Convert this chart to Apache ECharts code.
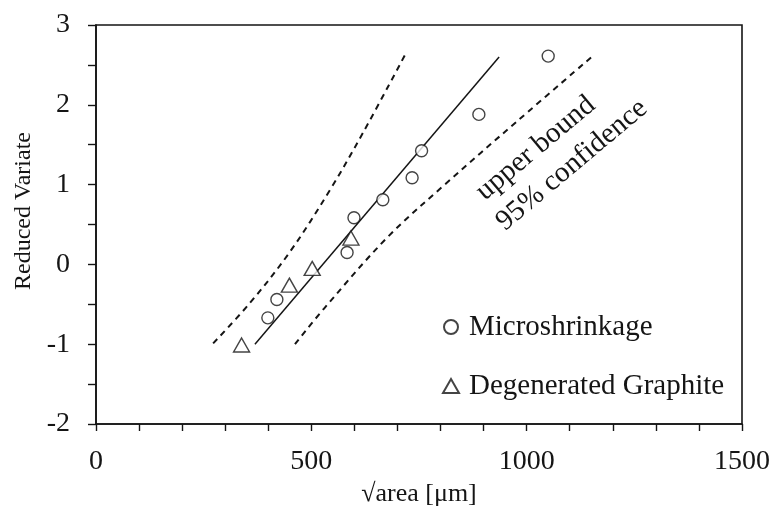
<!DOCTYPE html>
<html>
<head>
<meta charset="utf-8">
<script src="https://cdn.jsdelivr.net/npm/echarts@6/dist/echarts.min.js"></script>
<style>
html,body{margin:0;padding:0;background:#fff;}
#chart{width:776px;height:516px;}
</style>
</head>
<body>
<div id="chart"></div>
<script>
// ---- data ----
var microX = [399, 420, 583, 599, 666, 734, 756, 889, 1050];
var microY = [-0.67, -0.44, 0.15, 0.585, 0.81, 1.085, 1.425, 1.88, 2.61];
var graphX = [338, 449, 502, 592];
var graphY = [-1.01, -0.26, -0.05, 0.33];
var fitX = [369, 936];
var fitY = [-1.0, 2.60];
var bandLowX = [272, 358, 450, 543, 620, 717];
var bandLowY = [-0.99, -0.48, 0.155, 0.93, 1.65, 2.62];
var bandHighX = [462, 530, 675, 814, 977, 1151];
var bandHighY = [-1.0, -0.55, 0.33, 1.02, 1.79, 2.60];
var xTicks = [0, 500, 1000, 1500];
var yTicks = [-2, -1, 0, 1, 2, 3];
var annotAnchor = [905, 0.78];

function zip(a, b) { return a.map(function (v, i) { return [v, b[i]]; }); }

var FONT = 'Liberation Serif, Times New Roman, serif';
var INK = '#151515';

var chart = echarts.init(document.getElementById('chart'), null, {renderer: 'canvas'});

var markStyle = {color: '#ffffff', borderColor: INK, borderWidth: 1.4};

chart.setOption({
  animation: false,
  backgroundColor: '#ffffff',
  grid: {left: 96, right: 34, top: 25, bottom: 92, show: true, borderColor: INK, borderWidth: 1.6, backgroundColor: 'transparent'},
  legend: {
    data: ['Microshrinkage', 'Degenerated Graphite'],
    orient: 'vertical',
    left: 437,
    top: 306,
    itemWidth: 16,
    itemHeight: 14,
    itemGap: 27,
    selectedMode: false,
    textStyle: {fontFamily: FONT, fontSize: 29, color: INK, lineHeight: 32, padding: [0, 0, 0, 5]}
  },
  xAxis: {
    type: 'value', min: xTicks[0], max: xTicks[xTicks.length - 1], interval: 500,
    name: '\u221Aarea [\u03BCm]', nameLocation: 'middle', nameGap: 54,
    nameTextStyle: {fontFamily: FONT, fontSize: 26, color: INK},
    axisLine: {show: true, onZero: false, lineStyle: {color: INK, width: 1.6}},
    axisTick: {show: true, length: 7, lineStyle: {color: INK, width: 1.4}},
    minorTick: {show: true, splitNumber: 5, length: 7, lineStyle: {color: INK, width: 1.4}},
    axisLabel: {fontFamily: FONT, fontSize: 28, color: INK, margin: 24, formatter: function (v) { return String(v); }},
    splitLine: {show: false}
  },
  yAxis: {
    type: 'value', min: yTicks[0], max: yTicks[yTicks.length - 1], interval: 1,
    name: 'Reduced Variate', nameLocation: 'middle', nameGap: 58, nameRotate: 90,
    nameTextStyle: {fontFamily: FONT, fontSize: 24, color: INK, padding: [0, 0, 0, 27]},
    axisLine: {show: true, onZero: false, lineStyle: {color: INK, width: 1.6}},
    axisTick: {show: true, length: 8, lineStyle: {color: INK, width: 1.4}},
    minorTick: {show: true, splitNumber: 2, length: 8, lineStyle: {color: INK, width: 1.4}},
    axisLabel: {fontFamily: FONT, fontSize: 28, color: INK, margin: 26, formatter: function (v) { return String(v); }},
    splitLine: {show: false}
  },
  series: [
    {type: 'line', name: 'fit', data: zip(fitX, fitY), showSymbol: false, symbol: 'none',
     lineStyle: {color: INK, width: 1.5}, z: 2},
    {type: 'line', name: 'lowBand', data: zip(bandLowX, bandLowY), showSymbol: false, symbol: 'none', smooth: 0.35,
     lineStyle: {color: INK, width: 2, type: [6, 5]}, z: 2},
    {type: 'line', name: 'highBand', data: zip(bandHighX, bandHighY), showSymbol: false, symbol: 'none', smooth: 0.35,
     lineStyle: {color: INK, width: 2, type: [6, 5]}, z: 2},
    {type: 'scatter', name: 'Microshrinkage', data: zip(microX, microY), symbol: 'circle', symbolSize: 12,
     itemStyle: markStyle, z: 3},
    {type: 'scatter', name: 'Degenerated Graphite', data: zip(graphX, graphY), symbol: 'triangle', symbolSize: [16, 14],
     itemStyle: markStyle, z: 3}
  ]
});

var p = chart.convertToPixel({gridIndex: 0}, annotAnchor);
chart.setOption({
  graphic: [{
    type: 'group', x: p[0], y: p[1], rotation: 40 * Math.PI / 180,
    children: [
      {type: 'text', x: 0, y: -9, style: {text: 'upper bound', fontFamily: FONT, fontSize: 29, fill: INK, align: 'left', verticalAlign: 'middle'}},
      {type: 'text', x: -4, y: 27, style: {text: '95% confidence', fontFamily: FONT, fontSize: 29, fill: INK, align: 'left', verticalAlign: 'middle'}}
    ]
  }]
});
</script>
</body>
</html>
